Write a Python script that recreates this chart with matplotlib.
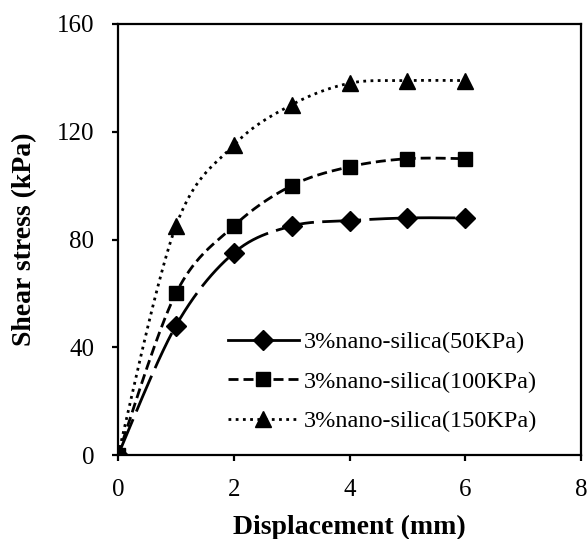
import numpy as np
import matplotlib
matplotlib.use("Agg")
import matplotlib.pyplot as plt

plt.rcParams['font.family'] = ['Liberation Serif', 'DejaVu Serif']

displacement = [0, 1, 2, 3, 4, 5, 6]
stress_50 = [0, 48, 75, 85, 87, 88, 88]
stress_100 = [0, 60, 85, 100, 107, 110, 110]
stress_150 = [0, 85, 115, 130, 138, 139, 139]
labels = ['3%nano-silica(50KPa)', '3%nano-silica(100KPa)', '3%nano-silica(150KPa)']


def smooth(x, y, n=40):
    # Excel-like Bezier smoothing through the points
    x = np.asarray(x, float)
    y = np.asarray(y, float)
    px = np.concatenate([[x[0]], x, [x[-1]]])
    py = np.concatenate([[y[0]], y, [y[-1]]])
    xs, ys = [], []
    t = np.linspace(0, 1, n)
    for i in range(len(x) - 1):
        p0 = np.array([x[i], y[i]])
        p3 = np.array([x[i + 1], y[i + 1]])
        prev = np.array([px[i], py[i]])
        nxt = np.array([px[i + 3], py[i + 3]])
        c1 = p0 + (p3 - prev) / 6.0
        c2 = p3 - (nxt - p0) / 6.0
        b = ((1 - t) ** 3)[:, None] * p0 + (3 * (1 - t) ** 2 * t)[:, None] * c1 \
            + (3 * (1 - t) * t ** 2)[:, None] * c2 + (t ** 3)[:, None] * p3
        xs.extend(b[:, 0])
        ys.extend(b[:, 1])
    return np.array(xs), np.array(ys)


fig = plt.figure(figsize=(5.88, 5.39), dpi=100)
ax = fig.add_axes([0.2007, 0.1558, 0.7874, 0.7997])

LW = 2.0
series = [
    (stress_50, 'D', (14, 3), 10),
    (stress_100, 's', (3.6, 1.8), 10.5),
    (stress_150, '^', (1, 1.6), 11),
]
for (ys, mk, dash, ms), lab in zip(series, labels):
    sx, sy = smooth(displacement, ys)
    ax.plot(sx, sy, color='black', lw=LW, dashes=dash, dash_capstyle='butt')
    ax.plot(displacement, ys, linestyle='none', marker=mk, ms=ms, color='black')
    if dash[0] >= 10:
        ax.plot([], [], color='black', lw=LW, linestyle='-', marker=mk, ms=ms, label=lab)
    else:
        ax.plot([], [], color='black', lw=LW, dashes=dash, marker=mk, ms=ms, label=lab)

ax.set_xlim(0, 8)
ax.set_ylim(0, 160)
ax.set_xticks([0, 2, 4, 6, 8])
ax.set_yticks([0, 40, 80, 120, 160])
ax.tick_params(direction='out', length=4.5, width=1.6, labelsize=18)
ax.tick_params(axis='x', pad=13)
ax.tick_params(axis='y', pad=12.5)
for s in ax.spines.values():
    s.set_linewidth(1.6)

ax.set_xlabel('Displacement (mm)', fontsize=20, fontweight='bold', labelpad=10)
ax.set_ylabel('Shear stress (kPa)', fontsize=20, fontweight='bold', labelpad=14)

ax.legend(loc='upper left', bbox_to_anchor=(0.2376, 0.287), frameon=False,
          borderpad=0, borderaxespad=0,
          fontsize=17.5, handlelength=2.9, handletextpad=0.2, labelspacing=0.72)

fig.savefig('out.png', dpi=100)
